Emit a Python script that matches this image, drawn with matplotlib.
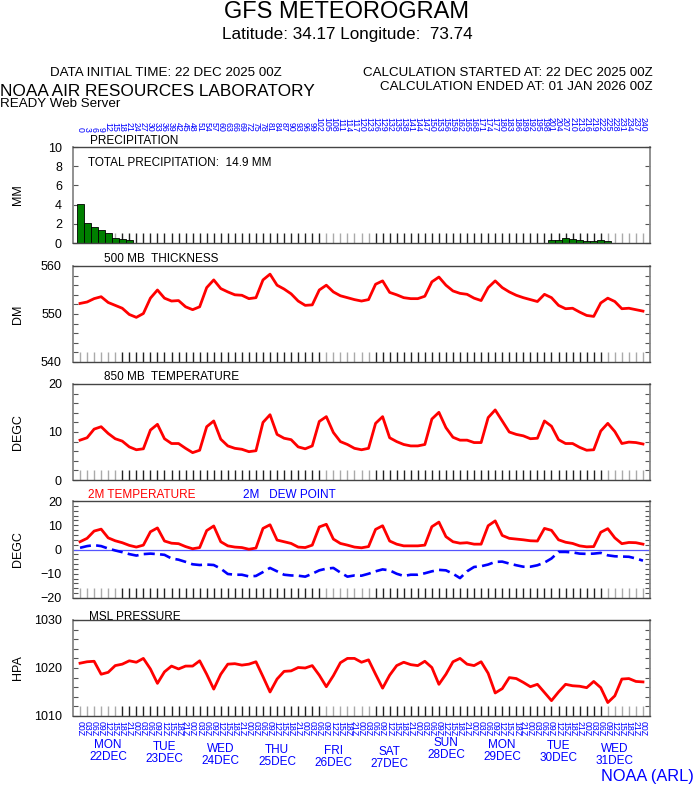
import matplotlib
matplotlib.use("Agg")
import matplotlib.pyplot as plt
import matplotlib.transforms as mtransforms

plt.rcParams['font.family'] = ['Liberation Sans', 'DejaVu Sans']

# forecast hours, 3-hourly from 22 DEC 2025 00Z
hours = list(range(0, 241, 3))

precip_hours = [0, 3, 6, 9, 12, 15, 18, 21, 177, 201, 204, 207, 210, 213, 216, 219, 222, 225]
precip_mm = [4.1, 2.1, 1.7, 1.4, 1.05, 0.55, 0.45, 0.3, 0.05,
             0.35, 0.35, 0.55, 0.42, 0.32, 0.25, 0.25, 0.35, 0.22]

thickness_dm = [552.2, 552.5, 553.2, 553.6, 552.4, 551.8, 551.2, 549.9, 549.3, 550.1,
                553.3, 555.0, 553.3, 552.7, 552.8, 551.5, 550.9, 551.5, 555.5, 557.1,
                555.3, 554.6, 554.0, 553.9, 553.2, 553.4, 557.1, 558.3, 556.0, 555.2,
                554.2, 552.7, 551.8, 551.9, 555.0, 556.0, 554.6, 553.8, 553.4, 553.0,
                552.7, 553.0, 556.2, 556.9, 554.5, 554.0, 553.4, 553.2, 553.2, 553.7,
                556.7, 557.7, 556.0, 554.8, 554.3, 554.1, 553.3, 552.8, 555.5, 556.9,
                555.5, 554.6, 553.9, 553.4, 553.0, 552.6, 554.1, 553.4, 551.8, 551.1,
                551.2, 550.4, 549.7, 549.5, 552.3, 553.3, 552.6, 551.1, 551.2, 550.9,
                550.6]

temp_850 = [8.3, 8.8, 10.6, 11.1, 9.7, 8.6, 8.1, 6.9, 6.3, 6.5,
            10.4, 11.6, 8.6, 7.6, 7.6, 6.6, 5.7, 6.2, 11.1, 12.3,
            8.5, 7.1, 6.6, 6.4, 5.9, 6.1, 12.0, 13.6, 9.5, 8.7,
            8.4, 6.9, 6.5, 7.1, 12.2, 13.2, 9.9, 8.0, 7.4, 6.6,
            6.3, 6.6, 11.8, 13.2, 8.8, 8.0, 7.4, 7.1, 7.1, 7.4,
            12.7, 14.1, 10.9, 8.9, 8.3, 8.3, 7.8, 7.8, 13.0, 14.6,
            12.3, 10.0, 9.5, 9.2, 8.6, 8.7, 12.3, 11.2, 8.4, 7.6,
            7.6, 6.8, 6.2, 6.3, 10.2, 11.8, 10.1, 7.6, 7.9, 7.8,
            7.5]

temp_2m = [3.2, 4.6, 7.6, 8.4, 4.8, 3.6, 2.8, 1.7, 1.0, 1.8,
           7.3, 8.9, 3.5, 2.6, 2.4, 1.2, 0.3, 0.8, 7.8, 9.7,
           3.2, 1.5, 1.0, 0.8, 0.1, 0.6, 8.7, 10.2, 3.9, 3.2,
           2.5, 1.0, 0.8, 1.8, 9.3, 10.4, 4.3, 2.5, 1.8, 1.0,
           0.7, 1.2, 8.3, 9.8, 3.5, 2.2, 1.5, 1.5, 1.5, 1.8,
           9.4, 11.3, 5.3, 3.2, 2.6, 2.8, 2.2, 2.2, 9.8, 11.8,
           5.8, 4.6, 4.3, 4.0, 3.6, 3.5, 8.7, 7.9, 4.0, 3.0,
           2.5, 1.5, 1.1, 1.2, 7.1, 8.6, 4.8, 2.4, 2.9, 2.8,
           2.2]

dewpoint_2m = [0.7, 1.4, 1.8, 1.4, 0.4, -0.4, -1.1, -1.9, -2.5, -1.9,
               -1.7, -1.9, -2.2, -3.7, -4.2, -5.1, -6.1, -6.4, -6.2, -6.4,
               -7.9, -10.1, -10.4, -10.4, -11.1, -10.9, -9.3, -7.6, -9.0, -10.4,
               -10.7, -10.8, -11.2, -10.0, -8.6, -7.9, -7.6, -9.5, -11.2, -10.7,
               -10.8, -10.0, -9.0, -8.2, -8.6, -10.0, -10.9, -10.4, -10.4, -9.8,
               -9.0, -8.4, -8.6, -10.0, -11.8, -9.0, -7.2, -6.9, -6.2, -5.1,
               -5.0, -5.8, -6.5, -7.1, -7.1, -6.5, -5.4, -3.7, -1.0, -1.0,
               -1.2, -1.7, -1.8, -1.7, -1.4, -2.4, -2.8, -2.9, -3.0, -3.7,
               -4.6]

msl_hpa = [1021.0, 1021.3, 1021.4, 1018.7, 1019.1, 1020.5, 1020.8, 1021.5, 1021.2, 1022.0,
           1019.8, 1016.8, 1019.2, 1020.4, 1019.8, 1020.4, 1020.4, 1021.5, 1018.7, 1015.6,
           1018.7, 1020.8, 1020.9, 1020.6, 1020.8, 1021.3, 1018.2, 1015.0, 1017.7, 1019.3,
           1019.4, 1020.1, 1020.0, 1020.5, 1018.5, 1016.1, 1018.4, 1021.1, 1022.0, 1022.0,
           1021.2, 1021.7, 1018.7, 1015.8, 1018.5, 1020.5, 1021.2, 1020.7, 1020.5, 1021.4,
           1020.1, 1016.6, 1018.7, 1021.3, 1022.0, 1020.8, 1020.5, 1021.3, 1018.9, 1014.8,
           1015.7, 1018.0, 1017.8, 1017.0, 1016.1, 1016.6, 1014.9, 1013.2, 1015.0, 1016.6,
           1016.3, 1016.2, 1015.9, 1017.2, 1015.9, 1012.8, 1014.2, 1017.7, 1017.8, 1017.2,
           1017.1]

day_names = ["MON", "TUE", "WED", "THU", "FRI", "SAT", "SUN", "MON", "TUE", "WED"]
day_dates = ["22DEC", "23DEC", "24DEC", "25DEC", "26DEC", "27DEC", "28DEC", "29DEC", "30DEC", "31DEC"]
day_label_y = [745, 747, 749, 750, 751, 752, 743, 745, 746, 749]

W, H = 694, 788
RED = '#ff0000'
BLUE = '#0000ff'


def fx(x):
    return x / W


def fy(y):
    return 1 - y / H


fig = plt.figure(figsize=(W / 100, H / 100), dpi=100)

# header
fig.text(0.5, fy(12), "GFS METEOROGRAM", ha='center', va='center', fontsize=17)
fig.text(0.5, fy(34), "Latitude: 34.17 Longitude:  73.74", ha='center', va='center', fontsize=12.3)
fig.text(fx(50), fy(73), "DATA INITIAL TIME: 22 DEC 2025 00Z", ha='left', va='center', fontsize=9.6)
fig.text(fx(653), fy(73), "CALCULATION STARTED AT: 22 DEC 2025 00Z", ha='right', va='center', fontsize=9.6)
fig.text(fx(653), fy(87), "CALCULATION ENDED AT: 01 JAN 2026 00Z", ha='right', va='center', fontsize=9.6)
fig.text(0.0, fy(91), "NOAA AIR RESOURCES LABORATORY", ha='left', va='center', fontsize=12.4)
fig.text(0.0, fy(104), "READY Web Server", ha='left', va='center', fontsize=9.6)
fig.text(1.0, fy(776), "NOAA (ARL)", ha='right', va='center', fontsize=11.8, color=BLUE)

LEFT, RIGHT = 73, 650
panels = [(147, 243), (266, 362), (384, 480), (501, 598), (620, 716)]
axes = []
for top, bot in panels:
    ax = fig.add_axes([fx(LEFT), fy(bot), (RIGHT - LEFT) / W, (bot - top) / H])
    ax.set_xlim(-3, 243)
    ax.set_xticks([])
    for side in ('left', 'right'):
        ax.spines[side].set_color('#888888')
        ax.spines[side].set_linewidth(1.3)
    for side in ('top', 'bottom'):
        ax.spines[side].set_color('#444444')
        ax.spines[side].set_linewidth(1.0)
    ax.tick_params(axis='y', which='both', direction='in', left=True, right=True,
                   length=3.6, width=0.8, color='#555555', labelsize=9, pad=8)
    # 3-hourly ticks along the bottom
    tick_colors = ['#aaaaaa' if (i <= 5 or 35 <= i <= 41 or i >= 75) else '#222222'
                   for i in range(len(hours))]
    ax.vlines(hours, 0, 10 / (bot - top), transform=ax.get_xaxis_transform(),
              colors=tick_colors, linewidth=1.0, zorder=1)
    axes.append(ax)

ax_p, ax_th, ax_t8, ax_t2, ax_msl = axes

# precipitation
ax_p.bar(precip_hours, precip_mm, width=3, color='#007f00', edgecolor='black',
         linewidth=0.6, zorder=2)
ax_p.set_ylim(0, 10)
ax_p.set_yticks(range(0, 11, 2))
ax_p.text(fx(88 - LEFT) * W / (RIGHT - LEFT), 1 - (163 - 147) / 96,
          "TOTAL PRECIPITATION:  14.9 MM", transform=ax_p.transAxes,
          ha='left', va='center', fontsize=8.5)

# 500 mb thickness
ax_th.plot(hours, thickness_dm, color=RED, linewidth=2, zorder=3)
ax_th.set_ylim(540, 560)
ax_th.set_yticks([540, 550, 560])
ax_th.set_yticks(range(540, 561, 2), minor=True)

# 850 mb temperature
ax_t8.plot(hours, temp_850, color=RED, linewidth=2, zorder=3)
ax_t8.set_ylim(0, 20)
ax_t8.set_yticks([0, 10, 20])
ax_t8.set_yticks(range(0, 21, 2), minor=True)

# 2 m temperature and dew point
ax_t2.axhline(0, color='#5555ff', linewidth=0.9, zorder=2)
ax_t2.plot(hours, temp_2m, color=RED, linewidth=2, zorder=3)
ax_t2.plot(hours, dewpoint_2m, color=BLUE, linewidth=1.9, linestyle=(0, (4.2, 2.0)), zorder=3)
ax_t2.set_ylim(-20, 20)
ax_t2.set_yticks([-20, -10, 0, 10, 20])
ax_t2.set_yticks(range(-20, 21, 2), minor=True)

# MSL pressure
ax_msl.plot(hours, msl_hpa, color=RED, linewidth=2, zorder=3)
ax_msl.set_ylim(1010, 1030)
ax_msl.set_yticks([1010, 1020, 1030])
ax_msl.set_yticks(range(1010, 1031, 2), minor=True)

# panel titles
fig.text(fx(90), fy(141), "PRECIPITATION", ha='left', va='center', fontsize=8.5)
fig.text(fx(104), fy(259), "500 MB  THICKNESS", ha='left', va='center', fontsize=8.5)
fig.text(fx(104), fy(377), "850 MB  TEMPERATURE", ha='left', va='center', fontsize=8.5)
fig.text(fx(88), fy(495), "2M TEMPERATURE", ha='left', va='center', fontsize=8.5, color=RED)
fig.text(fx(243), fy(495), "2M   DEW POINT", ha='left', va='center', fontsize=8.5, color=BLUE)
fig.text(fx(89), fy(617), "MSL PRESSURE", ha='left', va='center', fontsize=8.5)

# y axis units
for (top, bot), unit in zip(panels, ["MM", "DM", "DEGC", "DEGC", "HPA"]):
    fig.text(fx(18), fy((top + bot) / 2), unit, rotation=90, ha='center', va='center', fontsize=9)

# forecast hour labels on top, hour of day labels at bottom
top_tr = mtransforms.blended_transform_factory(ax_p.transData, fig.transFigure)
bot_tr = mtransforms.blended_transform_factory(ax_msl.transData, fig.transFigure)
for h in hours:
    fig.text(h, fy(132), str(h), transform=top_tr, rotation=-90,
             ha='center', va='bottom', fontsize=6.3, color=BLUE)
    fig.text(h, fy(721), "%02dZ" % (h % 24), transform=bot_tr, rotation=-90,
             ha='center', va='top', fontsize=6.3, color=BLUE)

for d, (name, date) in enumerate(zip(day_names, day_dates)):
    xh = 12 + 24 * d
    fig.text(xh, fy(day_label_y[d]), name, transform=bot_tr, ha='center', va='center',
             fontsize=8.5, color=BLUE)
    fig.text(xh, fy(day_label_y[d] + 11.7), date, transform=bot_tr, ha='center', va='center',
             fontsize=8.5, color=BLUE)

fig.savefig("out.png", dpi=100)
